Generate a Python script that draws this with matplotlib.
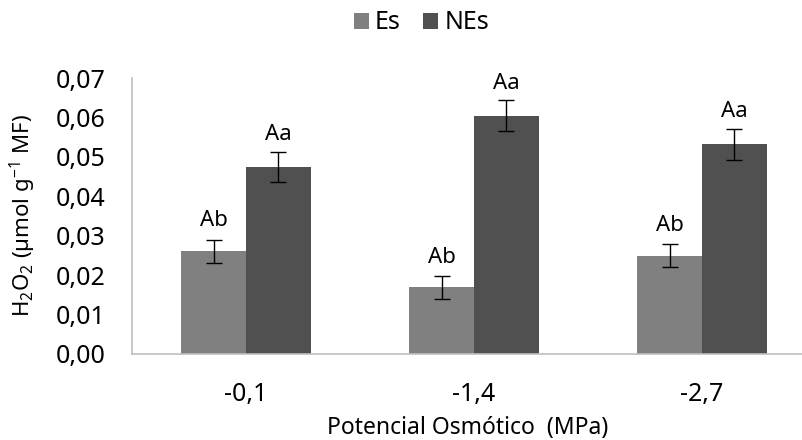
import numpy as np
from matplotlib import pyplot as plt
from matplotlib.ticker import FuncFormatter

plt.rcParams['font.family'] = ['Noto Sans', 'DejaVu Sans']
plt.rcParams['mathtext.default'] = 'regular'

categorias = ['-0,1', '-1,4', '-2,7']
es = [0.0261, 0.0169, 0.0249]
es_err = [0.0029, 0.0029, 0.0029]
nes = [0.0474, 0.0604, 0.0532]
nes_err = [0.0038, 0.0039, 0.0039]
letras_es = ['Ab', 'Ab', 'Ab']
letras_nes = ['Aa', 'Aa', 'Aa']

fig = plt.figure(figsize=(8.03, 4.40), dpi=100)
ax = fig.add_axes([0.1644, 0.1955, 0.8356, 0.6272])

x = np.arange(len(categorias))
w = 0.285
b1 = ax.bar(x - w / 2, es, w, color='#808080', label='Es',
            yerr=es_err, capsize=5.5, error_kw=dict(elinewidth=1, capthick=1, ecolor='black'))
b2 = ax.bar(x + w / 2, nes, w, color='#505050', label='NEs',
            yerr=nes_err, capsize=5.5, error_kw=dict(elinewidth=1, capthick=1, ecolor='black'))

# letras acima das barras de erro
for xi, v, e, t in zip(x - w / 2, es, es_err, letras_es):
    ax.annotate(t, (xi, v + e), xytext=(0, 6), textcoords='offset points',
                ha='center', va='bottom', fontsize=16)
for xi, v, e, t in zip(x + w / 2, nes, nes_err, letras_nes):
    ax.annotate(t, (xi, v + e), xytext=(0, 5), textcoords='offset points',
                ha='center', va='bottom', fontsize=16)

ax.set_xlim(-0.5, 2.443)
ax.set_ylim(0, 0.07)
ax.set_yticks(np.arange(0, 0.0701, 0.01))
ax.yaxis.set_major_formatter(FuncFormatter(lambda v, p: f'{v:.2f}'.replace('.', ',')))
ax.set_xticks(x)
ax.set_xticklabels(categorias)
ax.tick_params(axis='y', length=0, pad=19, labelsize=18)
ax.tick_params(axis='x', length=0, pad=20, labelsize=18)

for s in ['top', 'right']:
    ax.spines[s].set_visible(False)
for s in ['left', 'bottom']:
    ax.spines[s].set_color('#bfbfbf')
    ax.spines[s].set_linewidth(1.2)

ax.set_xlabel('Potencial Osmótico  (MPa)', fontsize=16.5)
ax.xaxis.set_label_coords(0.5, -0.225)
ax.set_ylabel('H$_2$O$_2$ (µmol g$^{-1}$ MF)', fontsize=16)
ax.yaxis.set_label_coords(-0.14, 0.5)

fig.legend(handles=[b1, b2], labels=['Es', 'NEs'], loc='center', bbox_to_anchor=(0.525, 0.948),
           ncol=2, frameon=False, fontsize=18, handlelength=0.6, handleheight=0.6,
           handletextpad=0.25, columnspacing=0.9)

plt.savefig('out.png', dpi=100)
